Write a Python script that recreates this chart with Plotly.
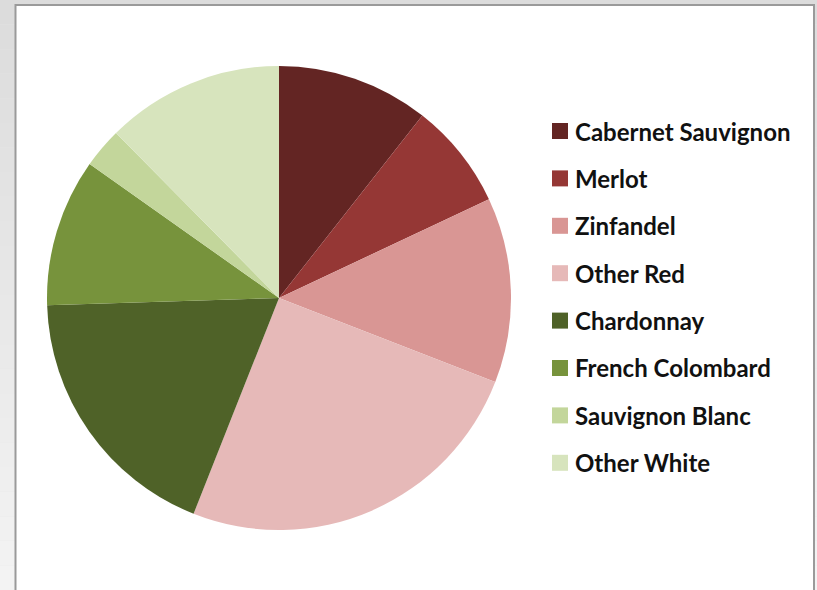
import plotly.graph_objects as go

# Wine varietal shares (percent of total)
varietals = ["Cabernet Sauvignon", "Merlot", "Zinfandel", "Other Red",
             "Chardonnay", "French Colombard", "Sauvignon Blanc", "Other White"]
shares = [10.6, 7.4, 12.9, 25.1, 18.5, 10.3, 2.8, 12.4]
colors = ["#632523", "#953735", "#d99694", "#e6b9b8",
          "#4f6228", "#77933c", "#c3d69b", "#d7e4bd"]

W, H = 817, 590
FONT = "Lato, Calibri, 'Open Sans', sans-serif"

fig = go.Figure()
fig.add_trace(go.Pie(
    labels=varietals,
    values=shares,
    marker=dict(colors=colors, line=dict(width=0)),
    sort=False,
    direction="clockwise",
    rotation=0,
    textinfo="none",
    hoverinfo="label+percent",
    showlegend=False,
    domain=dict(x=[47 / W, 511 / W], y=[(H - 530) / H, (H - 66) / H]),
))

shapes = []
# soft grey backdrop, lighter towards the bottom
bands = 24
for i in range(bands):
    t = i / (bands - 1)
    g = int(round(0xdc + (0xf3 - 0xdc) * t))
    shapes.append(dict(type="rect", xref="paper", yref="paper", layer="below",
                       x0=0, x1=1, y0=1 - (i + 1) / bands, y1=1 - i / bands,
                       fillcolor=f"rgb({g},{g},{g})", line=dict(width=0)))
# white chart card with grey frame
shapes.append(dict(type="rect", xref="paper", yref="paper", layer="below",
                   x0=15.5 / W, x1=814 / W, y0=-0.02, y1=1 - 5 / H,
                   fillcolor="white", line=dict(color="#9a9a9a", width=2)))

# legend: colour swatches and labels
annotations = []
row0, step = 131, 47.4
for i, (name, col) in enumerate(zip(varietals, colors)):
    yc = row0 + i * step
    shapes.append(dict(type="rect", xref="paper", yref="paper",
                       x0=552 / W, x1=568 / W,
                       y0=(H - yc - 8) / H, y1=(H - yc + 8) / H,
                       fillcolor=col, line=dict(width=0)))
    annotations.append(dict(text=f"<b>{name}</b>", xref="paper", yref="paper",
                            x=573 / W, y=(H - yc) / H, xanchor="left",
                            yanchor="middle", showarrow=False,
                            font=dict(family=FONT, size=24, color="#111111")))

fig.update_layout(
    width=W, height=H,
    margin=dict(l=0, r=0, t=0, b=0),
    paper_bgcolor="#e6e6e6",
    plot_bgcolor="white",
    shapes=shapes,
    annotations=annotations,
)

fig.write_html("out.html")
